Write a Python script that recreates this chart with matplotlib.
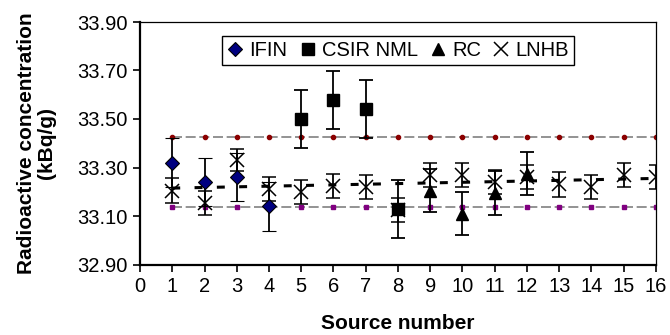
import numpy as np
import matplotlib
matplotlib.use("Agg")
import matplotlib.pyplot as plt
from matplotlib.ticker import FormatStrFormatter

plt.rcParams["font.family"] = ["Liberation Sans", "DejaVu Sans"]

# ── Data ─────────────────────────────────────────────────────────────────────
ifin_x   = [1, 2, 3, 4]
ifin_y   = [33.32, 33.24, 33.26, 33.14]
ifin_err = [0.10, 0.10, 0.10, 0.10]

csir_x   = [5, 6, 7, 8]
csir_y   = [33.50, 33.58, 33.54, 33.13]
csir_err = [0.12, 0.12, 0.12, 0.12]

rc_x     = [9, 10, 11, 12]
rc_y     = [33.205, 33.11, 33.195, 33.275]
rc_err   = [0.09, 0.09, 0.09, 0.09]

lnhb_x   = list(range(1, 17))
lnhb_y   = [33.205, 33.155, 33.33, 33.21, 33.20, 33.225, 33.22, 33.125,
            33.27, 33.27, 33.24, 33.26, 33.23, 33.22, 33.27, 33.26]
lnhb_err = [0.05, 0.05, 0.045, 0.05, 0.05, 0.05, 0.05, 0.05,
            0.05, 0.05, 0.05, 0.05, 0.05, 0.05, 0.05, 0.05]

ref_x     = list(range(1, 17))
upper_lim = [33.425] * 16
lower_lim = [33.138] * 16

trend_x = [1, 16]
trend_y = [33.215, 33.255]

x_ticks = list(range(0, 17))
y_ticks = [32.90, 33.10, 33.30, 33.50, 33.70, 33.90]

# ── Figure ────────────────────────────────────────────────────────────────────
fig = plt.figure(figsize=(6.7, 3.35), dpi=100)
ax = fig.add_axes([140 / 670, 1 - 264.5 / 335, 516 / 670, 242.5 / 335])

# reference limits
ax.plot(ref_x, upper_lim, color="#808080", lw=1.2, dashes=(6, 2.2),
        marker="o", ms=3, mfc="#8b0000", mec="#8b0000", zorder=1)
ax.plot(ref_x, lower_lim, color="#808080", lw=1.2, dashes=(6, 2.2),
        marker="s", ms=3, mfc="#800080", mec="#800080", zorder=1)

# trend
ax.plot(trend_x, trend_y, color="black", lw=2.2, dashes=(2.6, 4.7), zorder=2)

eb = dict(ls="none", ecolor="black", elinewidth=1.3, capsize=5, capthick=1.3,
          zorder=3)
ax.errorbar(ifin_x, ifin_y, yerr=ifin_err, marker="D", ms=7.5,
            mfc="#000080", mec="black", mew=0.8, label="IFIN", **eb)
ax.errorbar(csir_x, csir_y, yerr=csir_err, marker="s", ms=8,
            mfc="black", mec="black", label="CSIR NML", **eb)
ax.errorbar(rc_x, rc_y, yerr=rc_err, marker="^", ms=9,
            mfc="black", mec="black", label="RC", **eb)
ax.errorbar(lnhb_x, lnhb_y, yerr=lnhb_err, marker="x", ms=9.5,
            mfc="black", mec="black", mew=1.1, label="LNHB", **eb)

ax.set_xlim(0, 16)
ax.set_ylim(32.90, 33.90)
ax.set_xticks(x_ticks)
ax.set_yticks(y_ticks)
ax.yaxis.set_major_formatter(FormatStrFormatter("%.2f"))
ax.tick_params(labelsize=14.5, length=5, width=1.2, direction="out",
               colors="black", pad=4)

for side in ("left", "bottom"):
    ax.spines[side].set_linewidth(1.6)
for side in ("top", "right"):
    ax.spines[side].set_linewidth(0.9)

ax.set_xlabel("Source number", fontsize=15, fontweight="bold", labelpad=13)
ax.set_ylabel("Radioactive concentration\n(kBq/g)", fontsize=15,
              fontweight="bold", labelpad=15, linespacing=1.05)

handles, labels = ax.get_legend_handles_labels()
handles = [h[0] for h in handles]
leg = ax.legend(handles, labels, loc="upper center",
                bbox_to_anchor=(0.5, 0.985), ncol=4, fontsize=14.5,
                frameon=True, fancybox=False, framealpha=1,
                edgecolor="black", handlelength=0.8, handletextpad=0.3,
                columnspacing=0.6, borderpad=0.25, numpoints=1)
leg.get_frame().set_linewidth(1.0)

fig.savefig("out.png", dpi=100)
